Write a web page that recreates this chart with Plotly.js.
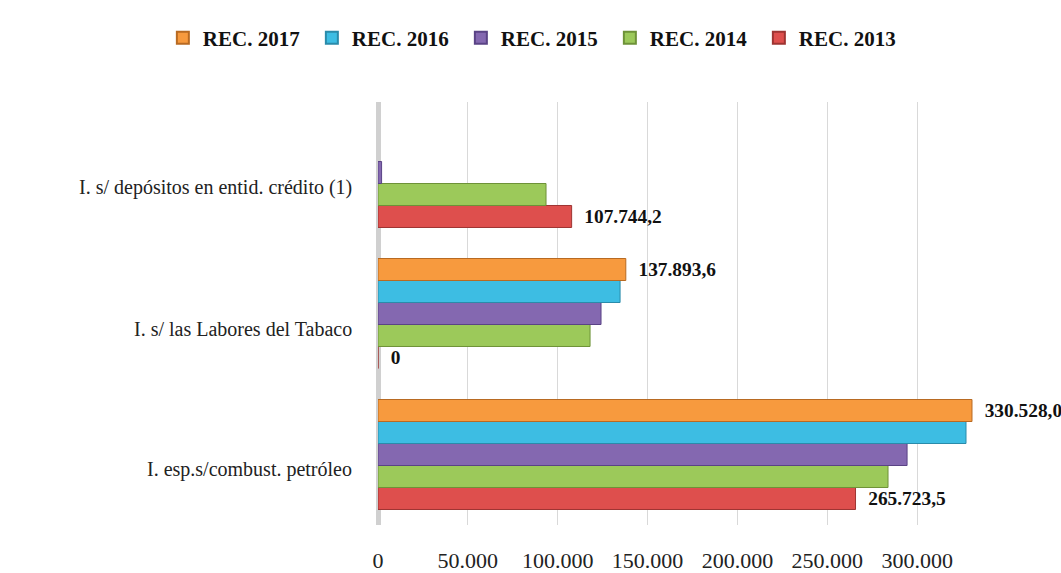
<!DOCTYPE html>
<html>
<head>
<meta charset="utf-8">
<script src="https://cdn.plot.ly/plotly-3.0.1.min.js"></script>
<style>html,body{margin:0;padding:0;background:#fff;}#chart{width:1061px;height:573px;}</style>
</head>
<body>
<div id="chart"></div>
<script>
// Categories (bottom to top)
const categories = [
  "I. esp.s/combust. petróleo",
  "I. s/ las Labores del Tabaco",
  "I. s/ depósitos en entid. crédito (1)"
];
const seriesNames = ["REC. 2013", "REC. 2014", "REC. 2015", "REC. 2016", "REC. 2017"];
const rec2013 = [265723.5, 0, 107744.2];
const rec2014 = [283800, 118000, 93500];
const rec2015 = [294400, 124100, 2000];
const rec2016 = [327200, 134700, null];
const rec2017 = [330528.0, 137893.6, null];
const labels2013 = ["265.723,5", "0", "107.744,2"];
const labels2017 = ["330.528,0", "137.893,6", ""];
const xTickVals = [0, 50000, 100000, 150000, 200000, 250000, 300000];
const xTickText = ["0", "50.000", "100.000", "150.000", "200.000", "250.000", "300.000"];

const colors = ["#DE4F4D", "#9CC95A", "#8468B0", "#3DBDE3", "#F79A3E"];
const lineColors = ["#9E3432", "#6E9238", "#5A4385", "#2A8BAA", "#B86A22"];
const values = [rec2013, rec2014, rec2015, rec2016, rec2017];
const texts = [labels2013, null, null, null, labels2017];

const serif = "Liberation Serif, Times New Roman, serif";
const traces = values.map((v, i) => ({
  type: "bar",
  orientation: "h",
  name: seriesNames[i],
  y: categories,
  x: v,
  marker: {color: colors[i], line: {color: lineColors[i], width: 1}},
  text: texts[i] ? texts[i].map(t => t ? "\u2002" + t : "") : undefined,
  textposition: texts[i] ? "outside" : "none",
  cliponaxis: false,
  textfont: {family: serif, size: 22, color: "#111", weight: "bold"},
  hoverinfo: "x+name"
}));

const annotations = categories.map(c => ({
  xref: "paper", yref: "y", x: 0, y: c,
  xanchor: "right", yanchor: "middle",
  xshift: -24, yshift: -15,
  text: c, showarrow: false,
  font: {family: serif, size: 20, color: "#222"}
}));

const layout = {
  width: 1061, height: 573,
  margin: {l: 378, r: 63, t: 102, b: 48},
  paper_bgcolor: "#fff", plot_bgcolor: "#fff",
  barmode: "group",
  bargap: 0.22,
  bargroupgap: 0,
  showlegend: true,
  legend: {
    orientation: "h", xref: "paper", x: -0.347, xanchor: "left",
    yref: "paper", y: 1.151, yanchor: "middle",
    traceorder: "reversed",
    font: {family: serif, size: 21, color: "#111", weight: "bold"},
    itemwidth: 30, itemsizing: "constant", tracegroupgap: 0,
    entrywidth: 104, entrywidthmode: "pixels"
  },
  annotations: annotations,
  xaxis: {
    range: [0, 345000],
    tickvals: xTickVals, ticktext: xTickText,
    showgrid: true, gridcolor: "#d9d9d9", gridwidth: 1,
    zeroline: true, zerolinecolor: "#d0d0d0", zerolinewidth: 5,
    ticks: "outside", ticklen: 16, tickcolor: "rgba(0,0,0,0)",
    tickfont: {family: serif, size: 22, color: "#222"},
    showline: false, fixedrange: true
  },
  yaxis: {
    type: "category",
    categoryorder: "array", categoryarray: categories,
    showgrid: false, zeroline: false, showline: false,
    showticklabels: false, ticks: "",
    fixedrange: true
  }
};

Plotly.newPlot("chart", traces, layout, {displayModeBar: false, staticPlot: true});
</script>
</body>
</html>
